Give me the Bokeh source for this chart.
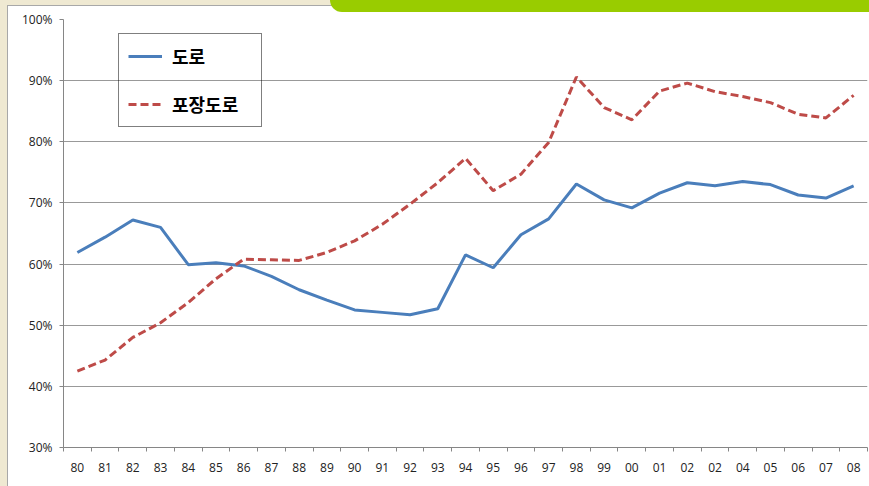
from bokeh.plotting import figure
from bokeh.models import FixedTicker, Legend, LegendItem, PrintfTickFormatter
from bokeh.embed import file_html
from bokeh.resources import INLINE

years = ["80", "81", "82", "83", "84", "85", "86", "87", "88", "89",
         "90", "91", "92", "93", "94", "95", "96", "97", "98", "99",
         "00", "01", "02", "02", "04", "05", "06", "07", "08"]
road = [61.9, 64.4, 67.2, 66.0, 59.9, 60.2, 59.7, 58.0, 55.8, 54.1,
        52.5, 52.1, 51.7, 52.7, 61.5, 59.4, 64.8, 67.4, 73.1, 70.5,
        69.2, 71.6, 73.3, 72.8, 73.5, 73.0, 71.3, 70.8, 72.8]
paved = [42.5, 44.3, 48.0, 50.4, 53.7, 57.6, 60.8, 60.7, 60.6, 61.9,
         63.8, 66.5, 69.8, 73.3, 77.3, 72.0, 74.7, 79.9, 90.6, 85.6,
         83.6, 88.3, 89.6, 88.2, 87.4, 86.4, 84.5, 83.9, 87.6]
y_ticks = [30, 40, 50, 60, 70, 80, 90, 100]
series_names = ["도로", "포장도로"]

n = len(years)
xc = [2 * i + 1 for i in range(n)]
bounds = [2 * i for i in range(n + 1)]

p = figure(width=869, height=486, x_range=(0, 2 * n), y_range=(30, 100),
           output_backend="svg", toolbar_location=None,
           min_border_left=63, min_border_right=2, min_border_top=19, min_border_bottom=39)
p.outline_line_color = None
p.background_fill_color = "white"
p.border_fill_alpha = 0

r1 = p.line(xc, road, line_color="#4A7EBB", line_width=3)
r2 = p.line(xc, paved, line_color="#BE4B48", line_width=3, line_dash="8 4")

# y axis
p.yaxis.ticker = FixedTicker(ticks=y_ticks)
p.yaxis.formatter = PrintfTickFormatter(format="%d%%")
p.yaxis.axis_line_color = "#868686"
p.yaxis.major_tick_line_color = "#868686"
p.yaxis.major_tick_in = 0
p.yaxis.major_tick_out = 4
p.yaxis.minor_tick_line_color = None
p.yaxis.major_label_standoff = 7
p.yaxis.major_label_text_font = "Open Sans"
p.yaxis.major_label_text_font_size = "12px"
p.yaxis.major_label_text_color = "#222222"

# x axis
p.xaxis.ticker = FixedTicker(ticks=xc, minor_ticks=bounds)
p.xaxis.major_label_overrides = {x: lab for x, lab in zip(xc, years)}
p.xaxis.axis_line_color = "#868686"
p.xaxis.major_tick_line_color = None
p.xaxis.major_tick_in = 0
p.xaxis.major_tick_out = 4
p.xaxis.minor_tick_line_color = "#868686"
p.xaxis.minor_tick_in = 0
p.xaxis.minor_tick_out = 4
p.xaxis.major_label_standoff = 11
p.xaxis.major_label_text_font = "Open Sans"
p.xaxis.major_label_text_font_size = "12px"
p.xaxis.major_label_text_color = "#222222"

p.xgrid.grid_line_color = None
p.ygrid.grid_line_color = "#999999"
p.ygrid.grid_line_width = 1

legend = Legend(items=[LegendItem(label=series_names[0], renderers=[r1]),
                       LegendItem(label=series_names[1], renderers=[r2])],
                location=(55, 320))
legend.border_line_color = "black"
legend.border_line_width = 1
legend.background_fill_alpha = 0
legend.label_text_font = "Noto Sans CJK KR"
legend.label_text_font_style = "bold"
legend.label_text_font_size = "18px"
legend.label_text_color = "black"
legend.glyph_width = 34
legend.glyph_height = 22
legend.label_height = 22
legend.label_width = 80
legend.label_standoff = 10
legend.spacing = 22
legend.padding = 9
legend.margin = 0
p.add_layout(legend, "center")

template = """
{% block postamble %}
<style>
html { background: #efe9d2; }
body { background: transparent; }
body::after { content: ""; position: absolute; left: 7px; top: 5px; right: 0; bottom: 0;
  background: white; border-left: 1px solid #a8a8a8; border-top: 1px solid #a8a8a8; z-index: -1; }
body::before { content: ""; position: absolute; left: 330px; top: 0; width: 539px; height: 12px;
  background: #99cc00; border-bottom-left-radius: 16px; z-index: 5; }
</style>
{% endblock %}
"""

open("out.html", "w").write(file_html(p, INLINE, template=template))
